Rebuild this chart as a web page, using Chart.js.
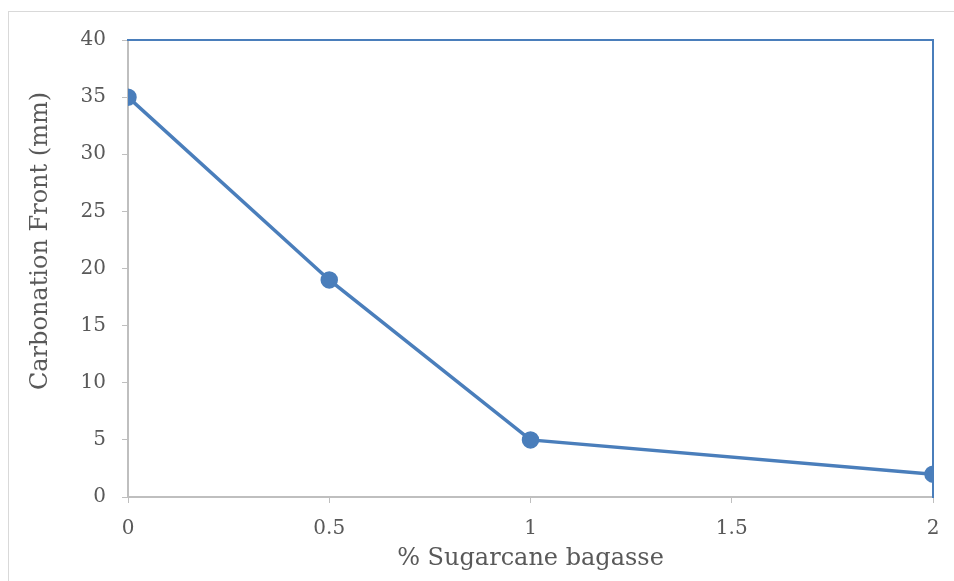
<!DOCTYPE html>
<html>
<head>
<meta charset="utf-8">
<script src="https://cdn.jsdelivr.net/npm/chart.js@4"></script>
<style>
  html, body { margin: 0; padding: 0; background: #fff; }
  #wrap { width: 954px; height: 581px; position: relative; }
</style>
</head>
<body>
<div id="wrap"><canvas id="chart"></canvas></div>
<script>
// datos
const bagasse = [0, 0.5, 1, 2];
const carbonationFront = [35, 19, 5, 2];
const xTicks = [0, 0.5, 1, 1.5, 2];
const yTicks = [0, 5, 10, 15, 20, 25, 30, 35, 40];
const xTitle = '% Sugarcane bagasse';
const yTitle = 'Carbonation Front (mm)';

const blue = '#4A7EBB';
const grey = '#BFBFBF';
const textColor = '#595959';
const fontFamily = '"DejaVu Serif", "Liberation Serif", serif';

// marco gris exterior y titulo del eje Y (Excel no lo centra en el area)
const outerFrame = {
  id: 'outerFrame',
  beforeDraw(chart) {
    const ctx = chart.ctx;
    ctx.save();
    ctx.strokeStyle = '#D9D9D9';
    ctx.lineWidth = 1;
    ctx.strokeRect(8.5, 11.5, 980, 620);
    ctx.restore();
  },
  afterDraw(chart) {
    const ctx = chart.ctx;
    ctx.save();
    ctx.translate(41, 241);
    ctx.rotate(-Math.PI / 2);
    ctx.fillStyle = textColor;
    ctx.font = '24px ' + fontFamily;
    ctx.textAlign = 'center';
    ctx.textBaseline = 'middle';
    ctx.fillText(yTitle, 0, 0);
    ctx.restore();
  }
};

function fixSize(w, h) {
  return function(scale) {
    if (w !== null) scale.width = w;
    if (h !== null) scale.height = h;
  };
}

const ctx = document.getElementById('chart').getContext('2d');
new Chart(ctx, {
  type: 'line',
  data: {
    datasets: [{
      label: 'Carbonation Front',
      data: bagasse.map((x, i) => ({ x: x, y: carbonationFront[i] })),
      borderColor: blue,
      backgroundColor: blue,
      borderWidth: 3.5,
      pointRadius: 7,
      pointHoverRadius: 7,
      pointBackgroundColor: blue,
      pointBorderColor: blue,
      tension: 0,
      fill: false
    }]
  },
  options: {
    responsive: true,
    maintainAspectRatio: false,
    animation: false,
    layout: { padding: 0 },
    plugins: {
      legend: { display: false },
      tooltip: { enabled: false }
    },
    scales: {
      x: {
        type: 'linear',
        position: 'bottom',
        min: 0,
        max: 2,
        afterFit: fixSize(null, 84),
        afterBuildTicks: (s) => { s.ticks = xTicks.map(v => ({ value: v })); },
        grid: { display: true, drawOnChartArea: false, drawTicks: true, tickLength: 6, color: grey, lineWidth: 1 },
        border: { display: true, color: grey, width: 2 },
        ticks: {
          color: textColor, font: { family: fontFamily, size: 20 }, padding: 14, maxRotation: 0,
          callback: (v) => String(v)
        },
        title: { display: true, text: xTitle, color: textColor, font: { family: fontFamily, size: 24 }, padding: { top: 0, bottom: 8 } }
      },
      y: {
        type: 'linear',
        position: 'left',
        min: 0,
        max: 40,
        afterFit: fixSize(128, null),
        afterBuildTicks: (s) => { s.ticks = yTicks.map(v => ({ value: v })); },
        grid: { display: true, drawOnChartArea: false, drawTicks: true, tickLength: 6, color: grey, lineWidth: 1 },
        border: { display: true, color: grey, width: 2 },
        ticks: { color: textColor, font: { family: fontFamily, size: 20 }, padding: 16, callback: (v) => String(v) },
        title: { display: false }
      },
      xTop: {
        type: 'linear',
        position: 'top',
        min: 0,
        max: 2,
        afterFit: fixSize(null, 40),
        grid: { display: false },
        border: { display: true, color: blue, width: 2 },
        ticks: { display: false }
      },
      yRight: {
        type: 'linear',
        position: 'right',
        min: 0,
        max: 40,
        afterFit: fixSize(21, null),
        grid: { display: false },
        border: { display: true, color: blue, width: 2 },
        ticks: { display: false }
      }
    }
  },
  plugins: [outerFrame]
});
</script>
</body>
</html>
